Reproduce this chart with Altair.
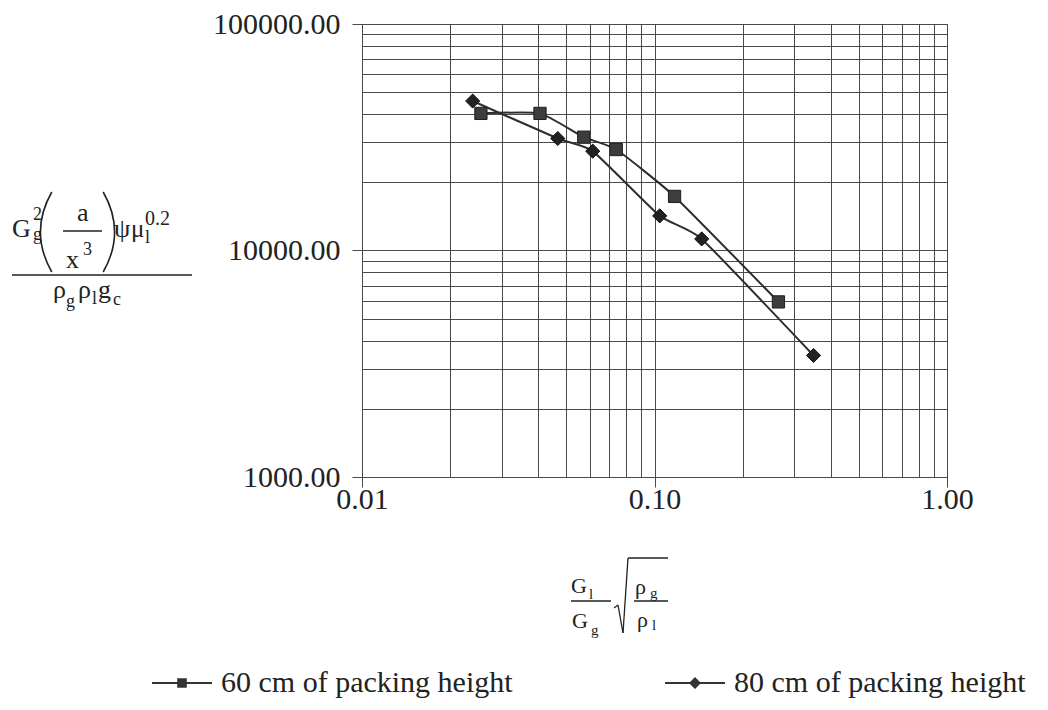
import altair as alt
import pandas as pd

# ---- data ----
series_names = ["60 cm of packing height", "80 cm of packing height"]
x60 = [0.0255, 0.0406, 0.0573, 0.0740, 0.1171, 0.2653]
y60 = [40300, 40300, 31650, 27910, 17330, 5930]
x80 = [0.0239, 0.0467, 0.0615, 0.1042, 0.1450, 0.3497]
y80 = [45700, 31220, 27450, 14220, 11250, 3440]

x_grid = [0.01, 0.02, 0.03, 0.04, 0.05, 0.06, 0.07, 0.08, 0.09,
          0.1, 0.2, 0.3, 0.4, 0.5, 0.6, 0.7, 0.8, 0.9, 1.0]
y_grid = [1000, 2000, 3000, 4000, 5000, 6000, 7000, 8000, 9000,
          10000, 20000, 30000, 40000, 50000, 60000, 70000, 80000, 90000, 100000]

rows = []
for i, (a, b) in enumerate(zip(x60, y60)):
    rows.append({"series": series_names[0], "x": a, "y": b, "order": i})
for i, (a, b) in enumerate(zip(x80, y80)):
    rows.append({"series": series_names[1], "x": a, "y": b, "order": i})
df = pd.DataFrame(rows)

# ---- layout ----
OX, OY = 362, 24          # plot-area origin in the page
W, H = 585, 453           # plot-area size
F = "Liberation Serif"
INK = "#222222"
GRID = "#4a4a4a"

decade = "abs(log(datum.value)/LN10 - round(log(datum.value)/LN10)) < 0.001"

def make_axis(vals, pad, flush):
    kw = dict(
        values=vals, grid=True, gridColor=GRID, gridWidth=1, domain=False,
        tickColor=GRID, tickSize=10, tickWidth=1,
        tickOpacity={"condition": {"test": decade, "value": 1}, "value": 0},
        labelExpr=f"{decade} ? format(datum.value, '.2f') : ''",
        labelFont=F, labelFontSize=30, labelColor=INK, labelOverlap=False,
        labelPadding=pad, title=None,
    )
    if flush is not None:
        kw["labelFlush"] = flush
    return alt.Axis(**kw)

xaxis = make_axis(x_grid, -3, False)
yaxis = make_axis(y_grid, 12, None)

X = alt.X("x:Q", scale=alt.Scale(type="log", domain=[0.01, 1], nice=False), axis=xaxis)
Y = alt.Y("y:Q", scale=alt.Scale(type="log", domain=[1000, 100000], nice=False), axis=yaxis)

base = alt.Chart(df)

lines = base.mark_line(interpolate="cardinal", tension=0.55, color="#2e2e2e",
                       strokeWidth=2).encode(
    x=X, y=Y, detail="series:N", order="order:Q")

pts60 = base.transform_filter(alt.datum.series == series_names[0]).mark_point(
    shape="square", filled=True, size=150, color="#3d3d3d", stroke="#1e1e1e",
    strokeWidth=1, opacity=1).encode(x=X, y=Y)
pts80 = base.transform_filter(alt.datum.series == series_names[1]).mark_point(
    shape="diamond", filled=True, size=200, color="#222222", stroke="#111111",
    strokeWidth=1, opacity=1).encode(x=X, y=Y)

p60 = "M-1,-0.035H1V0.035H-1Z M-0.16,-0.16H0.16V0.16H-0.16Z"
p80 = "M-1,-0.035H1V0.035H-1Z M0,-0.2L0.2,0L0,0.2L-0.2,0Z"

legend_layer = base.mark_point(filled=True, opacity=0, size=3600, color="#333333").encode(
    x=X, y=Y,
    shape=alt.Shape("series:N", scale=alt.Scale(domain=series_names, range=[p60, p80]),
                    legend=alt.Legend(
                        orient="none", legendX=152 - OX, legendY=683 - OY - 30,
                        direction="horizontal", title=None, padding=0,
                        symbolSize=3600, symbolOpacity=1, symbolStrokeWidth=0,
                        labelFont=F, labelFontSize=30, labelColor=INK,
                        labelOffset=9, labelLimit=600, columnPadding=152)))

# ---- axis-title formulas (annotation pieces) ----
one = alt.InlineData(values=[{"k": 1}])

def txt(s, px, py, size):
    return alt.Chart(one).mark_text(text=s, font=F, fontSize=size, align="left",
                                    baseline="alphabetic", color=INK).encode(
        x=alt.value(px - OX), y=alt.value(py - OY))

def seg(x1, y1, x2, y2, w=1.3):
    return alt.Chart(one).mark_rule(color=INK, strokeWidth=w).encode(
        x=alt.value(x1 - OX), x2=alt.value(x2 - OX),
        y=alt.value(y1 - OY), y2=alt.value(y2 - OY))

def paren(cx, cy, h, left=True):
    path = "M0.12,-1Q-0.45,0 0.12,1" if left else "M-0.12,-1Q0.45,0 -0.12,1"
    return alt.Chart(one).mark_point(shape=path, size=h * h, stroke=INK, strokeWidth=1.6,
                                     filled=False, opacity=1).encode(
        x=alt.value(cx - OX), y=alt.value(cy - OY))

ytitle = [
    txt("G", 12, 237, 26), txt("2", 33, 220, 18), txt("g", 33, 240, 18),
    paren(47, 232, 80, True),
    txt("a", 77, 221, 26), seg(63, 231, 102, 231),
    txt("x", 66, 268, 26), txt("3", 83, 255, 18),
    paren(108, 232, 80, False),
    txt("ψ", 114, 237, 26), txt("μ", 131, 237, 25),
    txt("0.2", 145, 225, 20),
    txt("l", 145, 243, 18),
    seg(12, 275, 192, 275),
    txt("ρ", 53, 298, 26), txt("g", 66, 307, 18),
    txt("ρ", 78, 298, 26), txt("l", 92, 304, 18),
    txt("g", 98, 298, 26), txt("c", 113, 305, 18),
]

xtitle = [
    txt("G", 571, 593, 22), txt("l", 589, 599, 15),
    seg(571, 601, 611, 601),
    txt("G", 572, 628, 22), txt("g", 591, 635, 15),
    seg(614, 608, 618, 605), seg(618, 605, 623, 633), seg(623, 633, 628, 558),
    seg(628, 558, 668, 558),
    txt("ρ", 635, 594, 22), txt("g", 650, 598, 15),
    seg(634, 601, 668, 601),
    txt("ρ", 637, 627, 22), txt("l", 652, 630, 15),
]

chart = alt.layer(lines, pts60, pts80, legend_layer, *ytitle, *xtitle).properties(
    width=W, height=H,
    autosize=alt.AutoSizeParams(type="none"),
    padding={"left": OX, "top": OY, "right": 1048 - OX - W, "bottom": 710 - OY - H},
    background="white",
).configure_view(stroke=GRID, strokeWidth=1)

chart.save("out.html", embed_options={"renderer": "svg", "actions": False})
